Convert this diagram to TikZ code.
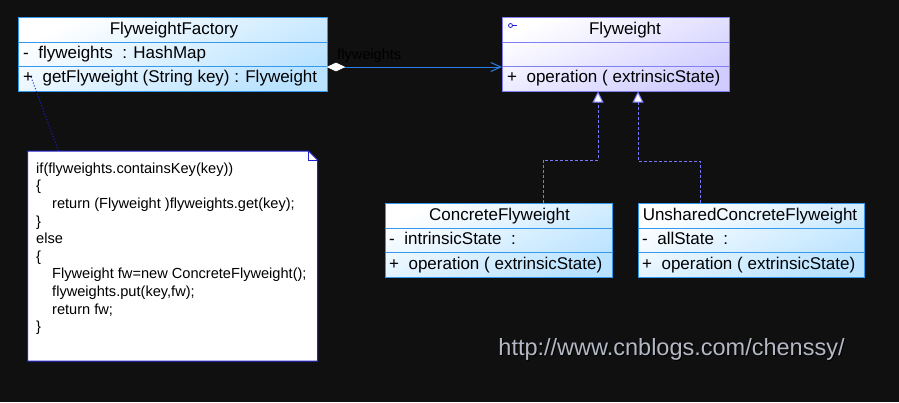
\documentclass[tikz,border=0pt]{standalone}
\usepackage{fontspec}
\setmainfont{Liberation Sans}
\usetikzlibrary{arrows.meta,calc}
\definecolor{bgc}{HTML}{101010}
\definecolor{fbord}{HTML}{3399EE}
\definecolor{ffill}{HTML}{B8E2FF}
\definecolor{ibord}{HTML}{8080F0}
\definecolor{ifill}{HTML}{D0CCFF}
\definecolor{assocc}{HTML}{2A80E8}
\definecolor{inhc}{HTML}{7777FF}
\definecolor{notec}{HTML}{2020D0}
\definecolor{urlc}{HTML}{B4B8C4}
\definecolor{lblc}{HTML}{000000}
\definecolor{diamc}{HTML}{FFFFFF}
\begin{document}
\begin{tikzpicture}[x=1pt,y=-1pt,
  cbox/.style={rectangle, draw=#1, line width=1pt, inner sep=0pt, outer sep=0pt, anchor=north west},
  cshade/.style={top color=white, bottom color=#1, shading angle=25},
  sepline/.style={draw=#1, line width=1pt},
  ctext/.style={font=\fontsize{17}{20}\selectfont, inner sep=0pt, text=black},
  ntext/.style={font=\fontsize{14.6}{17.6}\selectfont, inner sep=0pt, text=black, anchor=base west},
  assoc/.style={draw=assocc, line width=1pt},
  inh/.style={draw=inhc, line width=1pt, dash pattern=on 3pt off 2pt, -{Triangle[length=11pt,width=11pt,fill=white]}}
]
\useasboundingbox (0,0) rectangle (899,402);
\fill[bgc] (0,0) rectangle (899,402);

% FlyweightFactory
\node[cbox=fbord, cshade=ffill, minimum width=309pt, minimum height=74pt] (ff) at (18.5,17.5) {};
\draw[sepline=fbord] ([yshift=-25pt]ff.north west) -- ([yshift=-25pt]ff.north east);
\draw[sepline=fbord] ([yshift=-49pt]ff.north west) -- ([yshift=-49pt]ff.north east);
\node[ctext, anchor=base] (fft) at (174,34) {FlyweightFactory};
\node[ctext, anchor=base west] (ffa) at (23,58) {-\ \ flyweights\ \ : HashMap};
\node[ctext, anchor=base west] (ffm) at (23,82) {+\ \ getFlyweight (String key)\ : Flyweight};

% Flyweight
\node[cbox=ibord, cshade=ifill, minimum width=227pt, minimum height=74pt] (fw) at (502,17.5) {};
\draw[sepline=ibord] ([yshift=-25pt]fw.north west) -- ([yshift=-25pt]fw.north east);
\draw[sepline=ibord] ([yshift=-49pt]fw.north west) -- ([yshift=-49pt]fw.north east);
\node[ctext, anchor=base] (fwt) at (625,34) {Flyweight};
\node[ctext, anchor=base west] (fwm) at (507,82) {+\ \ operation ( extrinsicState)};
\draw[draw=notec, line width=0.8pt] (510.5,25.5) circle (2pt);
\draw[draw=notec, line width=0.8pt] (512.5,25.5) -- (517,25.5);

% ConcreteFlyweight
\node[cbox=fbord, cshade=ffill, minimum width=227pt, minimum height=74pt] (cf) at (385,203) {};
\draw[sepline=fbord] ([yshift=-25pt]cf.north west) -- ([yshift=-25pt]cf.north east);
\draw[sepline=fbord] ([yshift=-49pt]cf.north west) -- ([yshift=-49pt]cf.north east);
\node[ctext, anchor=base] (cft) at (499.5,220) {ConcreteFlyweight};
\node[ctext, anchor=base west] (cfa) at (389,244) {-\ \ intrinsicState\ \ :};
\node[ctext, anchor=base west] (cfm) at (389,269) {+\ \ operation ( extrinsicState)};

% UnsharedConcreteFlyweight
\node[cbox=fbord, cshade=ffill, minimum width=226pt, minimum height=74pt] (uf) at (638,203) {};
\draw[sepline=fbord] ([yshift=-25pt]uf.north west) -- ([yshift=-25pt]uf.north east);
\draw[sepline=fbord] ([yshift=-49pt]uf.north west) -- ([yshift=-49pt]uf.north east);
\node[ctext, anchor=base] (uft) at (750,220) {UnsharedConcreteFlyweight};
\node[ctext, anchor=base west] (ufa) at (642,244) {-\ \ allState\ \ :};
\node[ctext, anchor=base west] (ufm) at (642,269) {+\ \ operation ( extrinsicState)};

% association
\coordinate (dstart) at ([yshift=-12.5pt]ff.east);
\draw[assoc, -{Straight Barb[length=10pt,width=9pt]}]
  (dstart) -- ([yshift=-12.5pt]fw.west);
\filldraw[fill=diamc, draw=diamc, line width=0.6pt] (dstart) -- ++(8.5,-4) -- ++(8.5,4) -- ++(-8.5,4) -- cycle;
\node[font=\fontsize{14.6}{17}\selectfont, inner sep=0pt, text=lblc, anchor=base west] (aggl) at (337,59) {flyweights};

% generalizations
\draw[inh] ([xshift=158pt]cf.north west) -- ++(0,-43) -| ([xshift=96pt]fw.south west);
\draw[inh] ([xshift=62pt]uf.north west) -- ++(0,-42) -| ([xshift=136pt]fw.south west);

% note
\node[rectangle, inner sep=0pt, outer sep=0pt, minimum width=290pt, minimum height=210pt, anchor=north west] (note) at (27.5,151) {};
\filldraw[fill=white, draw=notec, line width=1pt]
  (note.north west) -- ([xshift=-9pt]note.north east) -- ([yshift=-9pt]note.north east)
  -- (note.south east) -- (note.south west) -- cycle;
\draw[draw=notec, line width=0.6pt] ([xshift=-9pt]note.north east) -- ([xshift=-9pt,yshift=-9pt]note.north east) -- ([yshift=-9pt]note.north east);
\coordinate (ffanchor) at (31,77);
\draw[draw=notec, line width=1pt, dotted] (ffanchor) -- ([xshift=31pt]note.north west);

\node[ntext] (n1) at (36,173.3) {if(flyweights.containsKey(key))};
\node[ntext] (n2) at (36,190.9) {\{};
\node[ntext] (n3) at (52,208.5) {return (Flyweight )flyweights.get(key);};
\node[ntext] (n4) at (36,226.1) {\}};
\node[ntext] (n5) at (36,243.7) {else};
\node[ntext] (n6) at (36,261.3) {\{};
\node[ntext] (n7) at (52,278.9) {Flyweight fw=new ConcreteFlyweight();};
\node[ntext] (n8) at (52,296.5) {flyweights.put(key,fw);};
\node[ntext] (n9) at (52,314.1) {return fw;};
\node[ntext] (n10) at (36,331.7) {\}};

% watermark
\node[font=\fontsize{23.5}{28}\selectfont, inner sep=0pt, text=black, anchor=base] (urlsh) at (672.5,356.5) {http://www.cnblogs.com/chenssy/};
\node[font=\fontsize{23.5}{28}\selectfont, inner sep=0pt, text=urlc, anchor=base] (url) at (671.5,355.5) {http://www.cnblogs.com/chenssy/};
\end{tikzpicture}
\end{document}
